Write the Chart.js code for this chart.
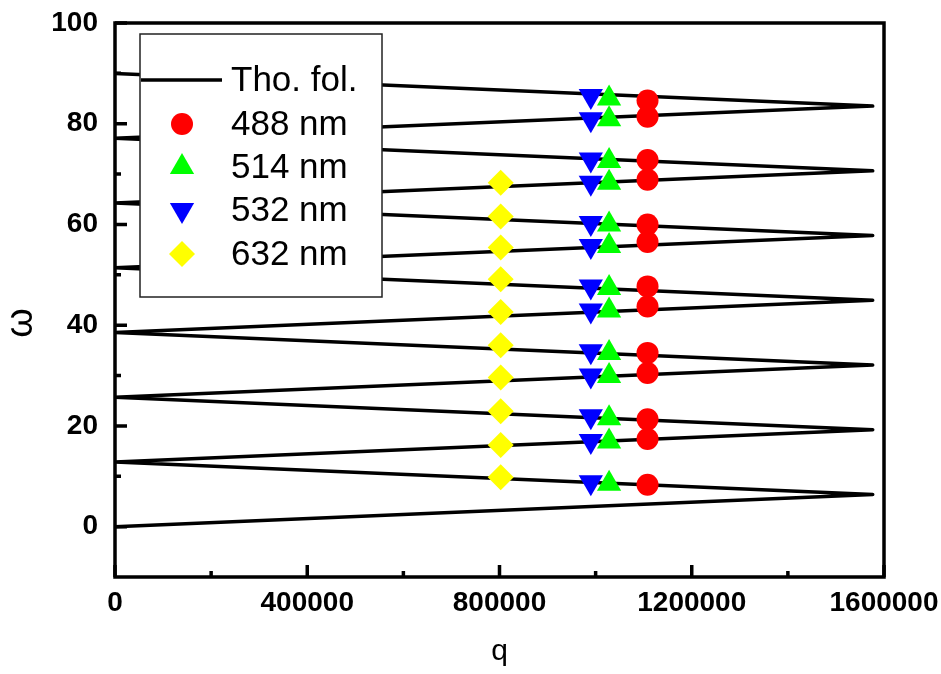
<!DOCTYPE html>
<html>
<head>
<meta charset="utf-8">
<script src="https://cdn.jsdelivr.net/npm/chart.js@4.4.0/dist/chart.umd.min.js"></script>
<style>
  body { margin: 0; background: #fff; }
</style>
</head>
<body>
<canvas id="c" width="941" height="674"></canvas>
<script>
// Tho. fol. : folded branch, zigzag vertices (q, omega)
const foldQ = [0, 1576500, 0, 1576500, 0, 1576500, 0, 1576500, 0, 1576500, 0, 1576500, 0, 1576500, 0];
const foldW = [0, 6.4, 12.85, 19.25, 25.7, 32.1, 38.55, 44.95, 51.4, 57.8, 64.25, 70.65, 77.1, 83.5, 89.95];

// measured points, one q per laser line
const q488 = 1108000;
const w488 = [8.3, 17.4, 21.3, 30.5, 34.5, 43.7, 47.7, 56.5, 60.0, 68.9, 72.8, 81.4, 84.6];
const q514 = 1028000;
const w514 = [8.5, 16.9, 21.5, 29.9, 34.5, 42.9, 47.4, 55.7, 60.0, 68.3, 72.6, 80.9, 85.0];
const q532 = 990000;
const w532 = [8.8, 17.0, 21.9, 30.0, 34.8, 42.9, 47.7, 55.7, 60.3, 68.3, 72.9, 80.9, 85.5];
const q632 = 802500;
const w632 = [9.8, 16.2, 22.9, 29.6, 36.0, 42.6, 49.1, 55.4, 61.6, 68.3];

// axes
const xTicks = [0, 400000, 800000, 1200000, 1600000];
const xMinor = [200000, 600000, 1000000, 1400000];
const yTicks = [0, 20, 40, 60, 80, 100];
const yMinor = [10, 30, 50, 70, 90];

const FONT = "'Liberation Sans', Arial, sans-serif";

function pts(q, ws) {
  return ws.map(function (w) { return { x: q, y: w }; });
}

const foldData = foldQ.map(function (q, i) { return { x: q, y: foldW[i] }; });

// frame + inward ticks
const framePlugin = {
  id: 'frame',
  afterDraw: function (chart) {
    const ctx = chart.ctx;
    const a = chart.chartArea;
    const xs = chart.scales.x, ys = chart.scales.y;
    ctx.save();
    ctx.strokeStyle = '#000';
    ctx.lineWidth = 3.5;
    ctx.lineCap = 'butt';
    ctx.beginPath();
    xTicks.forEach(function (v) {
      const px = xs.getPixelForValue(v);
      ctx.moveTo(px, a.bottom); ctx.lineTo(px, a.bottom - 12);
    });
    xMinor.forEach(function (v) {
      const px = xs.getPixelForValue(v);
      ctx.moveTo(px, a.bottom); ctx.lineTo(px, a.bottom - 6);
    });
    yTicks.forEach(function (v) {
      const py = ys.getPixelForValue(v);
      ctx.moveTo(a.left, py); ctx.lineTo(a.left + 12, py);
    });
    yMinor.forEach(function (v) {
      const py = ys.getPixelForValue(v);
      ctx.moveTo(a.left, py); ctx.lineTo(a.left + 6, py);
    });
    ctx.stroke();
    ctx.lineJoin = 'miter';
    ctx.strokeRect(a.left, a.top, a.right - a.left, a.bottom - a.top);

    // y title (rotated omega)
    ctx.fillStyle = '#000';
    ctx.font = '38px ' + FONT;
    ctx.textAlign = 'center';
    ctx.textBaseline = 'middle';
    ctx.translate(22, 323);
    ctx.rotate(-Math.PI / 2);
    ctx.fillText('ω', 0, 0);
    ctx.restore();
  }
};

// legend box like the original
const legendPlugin = {
  id: 'boxLegend',
  afterDraw: function (chart) {
    const ctx = chart.ctx;
    const bx = 140, by = 34, bw = 242, bh = 263;
    const rowY = [80, 124, 167, 210, 254];
    ctx.save();
    ctx.fillStyle = '#fff';
    ctx.fillRect(bx, by, bw, bh);
    ctx.strokeStyle = '#222';
    ctx.lineWidth = 1.5;
    ctx.strokeRect(bx, by, bw, bh);

    chart.data.datasets.forEach(function (ds, i) {
      const y = rowY[i];
      if (ds.showLine) {
        ctx.strokeStyle = ds.borderColor;
        ctx.lineWidth = 3.5;
        ctx.beginPath();
        ctx.moveTo(bx + 1, y);
        ctx.lineTo(222, y);
        ctx.stroke();
      } else {
        ctx.fillStyle = ds.pointBackgroundColor;
        ctx.strokeStyle = ds.pointBackgroundColor;
        Chart.helpers.drawPoint(ctx, {
          pointStyle: ds.pointStyle,
          radius: ds.pointRadius,
          rotation: ds.pointRotation || 0,
          borderWidth: 0
        }, 182, y);
      }
      ctx.fillStyle = '#000';
      ctx.font = '35px ' + FONT;
      ctx.textAlign = 'left';
      ctx.textBaseline = 'middle';
      ctx.fillText(ds.label, 231, y + 1);
    });
    ctx.restore();
  }
};

new Chart(document.getElementById('c'), {
  type: 'scatter',
  data: {
    datasets: [
      {
        label: 'Tho. fol.',
        data: foldData,
        showLine: true,
        borderColor: '#000',
        borderWidth: 3.5,
        borderJoinStyle: 'round',
        borderCapStyle: 'round',
        pointRadius: 0,
        order: 10
      },
      {
        label: '488 nm',
        data: pts(q488, w488),
        pointStyle: 'circle',
        pointRadius: 11,
        pointBackgroundColor: '#ff0000',
        pointBorderWidth: 0,
        order: 4
      },
      {
        label: '514 nm',
        data: pts(q514, w514),
        pointStyle: 'triangle',
        pointRadius: 14,
        pointBackgroundColor: '#00ff00',
        pointBorderWidth: 0,
        order: 3
      },
      {
        label: '532 nm',
        data: pts(q532, w532),
        pointStyle: 'triangle',
        pointRotation: 180,
        pointRadius: 14,
        pointBackgroundColor: '#0000ff',
        pointBorderWidth: 0,
        order: 2
      },
      {
        label: '632 nm',
        data: pts(q632, w632),
        pointStyle: 'rectRot',
        pointRadius: 13,
        pointBackgroundColor: '#ffff00',
        pointBorderWidth: 0,
        order: 1
      }
    ]
  },
  options: {
    responsive: false,
    animation: false,
    devicePixelRatio: 1,
    layout: { padding: { top: 23, right: 57, left: 0, bottom: 0 } },
    plugins: {
      legend: { display: false },
      tooltip: { enabled: false }
    },
    scales: {
      x: {
        type: 'linear',
        min: 0,
        max: 1600000,
        afterBuildTicks: function (s) { s.ticks = xTicks.map(function (v) { return { value: v }; }); },
        afterFit: function (s) { s.height = 97; s.paddingLeft = 0; s.paddingRight = 0; },
        grid: { display: false, drawTicks: false },
        border: { display: false },
        ticks: {
          color: '#000',
          padding: 9,
          maxRotation: 0,
          autoSkip: false,
          font: { family: FONT, size: 28, weight: 'bold' },
          callback: function (v) { return String(v); }
        },
        title: {
          display: true,
          text: 'q',
          color: '#000',
          font: { family: FONT, size: 30 },
          padding: { top: 0, bottom: 4 }
        }
      },
      y: {
        min: -10,
        max: 100,
        afterBuildTicks: function (s) { s.ticks = yTicks.map(function (v) { return { value: v }; }); },
        afterFit: function (s) { s.width = 115; s.paddingTop = 0; s.paddingBottom = 0; },
        grid: { display: false, drawTicks: false },
        border: { display: false },
        ticks: {
          color: '#000',
          padding: 17,
          font: { family: FONT, size: 28, weight: 'bold' },
          callback: function (v) { return String(v); }
        }
      }
    }
  },
  plugins: [framePlugin, legendPlugin]
});
</script>
</body>
</html>
